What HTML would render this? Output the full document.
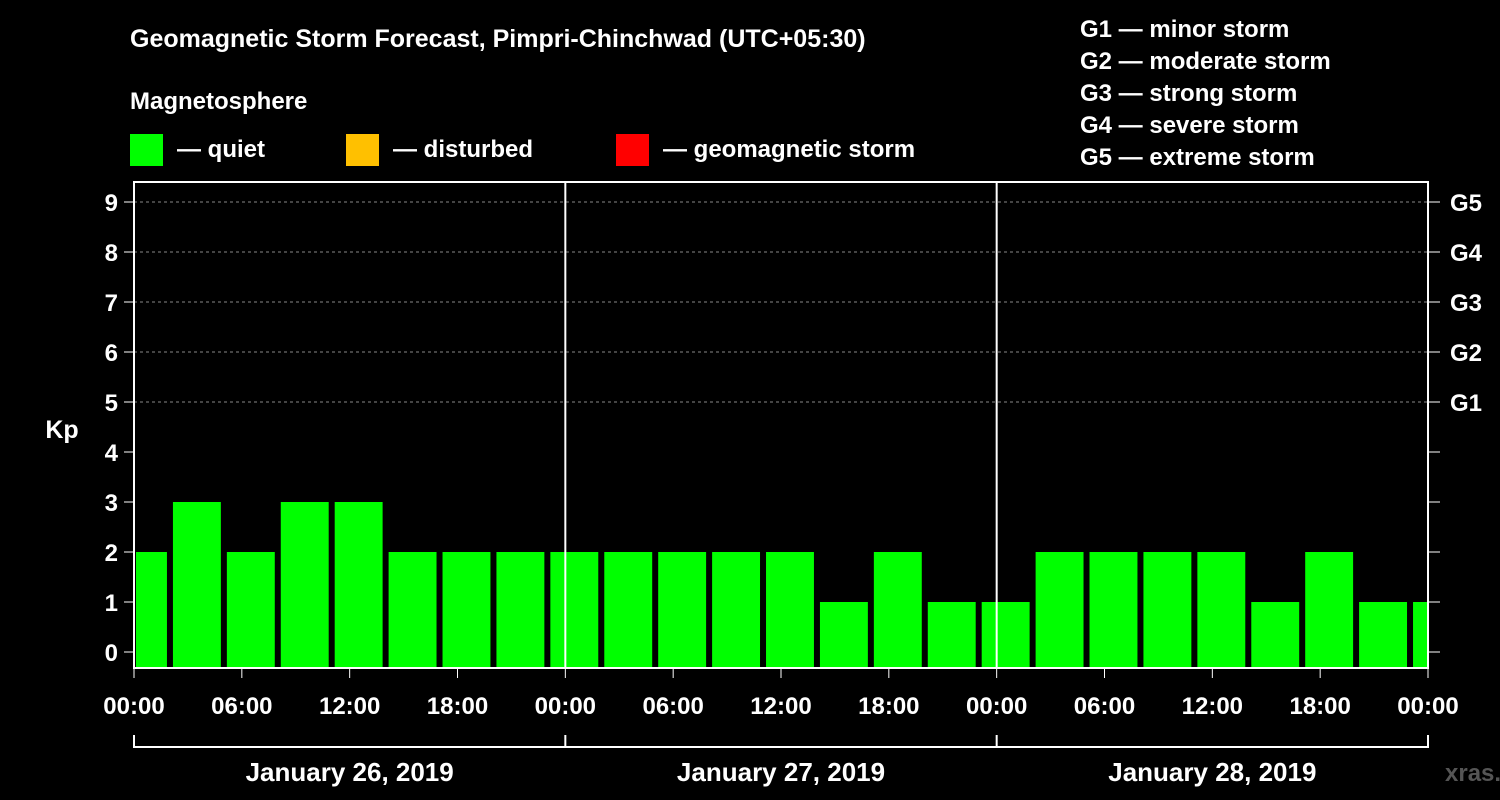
<!DOCTYPE html>
<html><head><meta charset="utf-8"><style>
html,body{margin:0;padding:0;background:#000;}
svg{display:block;font-family:"Liberation Sans",Arial,sans-serif;font-weight:bold;}
</style></head><body>
<svg id="chart" width="1500" height="800" viewBox="0 0 1500 800">
<rect width="1500" height="800" fill="#000"/>
<text x="130" y="47" fill="#fff" font-size="25">Geomagnetic Storm Forecast, Pimpri-Chinchwad (UTC+05:30)</text>
<text x="130" y="109" fill="#fff" font-size="24">Magnetosphere</text>
<g><rect x="130" y="134" width="33" height="32" fill="#00ff00"/><text x="177" y="157" fill="#fff" font-size="24">— quiet</text></g>
<g><rect x="346" y="134" width="33" height="32" fill="#ffc000"/><text x="393" y="157" fill="#fff" font-size="24">— disturbed</text></g>
<g><rect x="616" y="134" width="33" height="32" fill="#ff0000"/><text x="663" y="157" fill="#fff" font-size="24">— geomagnetic storm</text></g>
<g fill="#fff" font-size="24">
<text x="1080" y="37">G1 — minor storm</text>
<text x="1080" y="69">G2 — moderate storm</text>
<text x="1080" y="101">G3 — strong storm</text>
<text x="1080" y="133">G4 — severe storm</text>
<text x="1080" y="165">G5 — extreme storm</text>
</g>
<text x="62" y="438" fill="#fff" font-size="25" text-anchor="middle">Kp</text>
<g id="grid"></g>
<g id="bars"></g>
<g id="axes"></g>
<text x="1445" y="781" fill="#555" font-size="24">xras.ru</text>
</svg>
<script>
const kpValues=[2,3,2,3,3,2,2,2,2,2,2,2,2,1,2,1,1,2,2,2,2,1,2,1,1];
const binStarts=[0,2,5,8,11,14,17,20,23,26,29,32,35,38,41,44,47,50,53,56,59,62,65,68,71];
const yTicks=[0,1,2,3,4,5,6,7,8,9];
const gLabels=["G1","G2","G3","G4","G5"];
const xTickLabels=["00:00","06:00","12:00","18:00","00:00","06:00","12:00","18:00","00:00","06:00","12:00","18:00","00:00"];
const dateLabels=["January 26, 2019","January 27, 2019","January 28, 2019"];
const X0=134,X1=1428,TOTAL_H=72;
const x=h=>X0+(X1-X0)*h/TOTAL_H;
const y=v=>652-50*v;
const NS="http://www.w3.org/2000/svg";
function mk(parent,tag,attrs,text){const e=document.createElementNS(NS,tag);for(const k in attrs)e.setAttribute(k,attrs[k]);if(text!==undefined)e.textContent=text;document.getElementById(parent).appendChild(e);return e;}
// grid
for(let v=5;v<=9;v++){const l=mk('grid','line',{x1:X0,x2:X1,y1:y(v),y2:y(v),stroke:'#888','stroke-dasharray':'3,3','stroke-width':1});

}
// bars
kpValues.forEach((v,i)=>{const s=binStarts[i];const e=i+1<binStarts.length?binStarts[i+1]:s+3;
const left=i===0?x(s)+2:x(s)+3;const right=Math.min(x(e)-3,X1);
const r=mk('bars','rect',{x:left,y:y(v),width:right-left,height:668-y(v),fill:v>=5?'#ff0000':(v>=4?'#ffc000':'#00ff00')});

});
// frame and day dividers
const fr=mk('axes','rect',{x:X0,y:182,width:X1-X0,height:486,fill:'none',stroke:'#fff','stroke-width':2});


[24,48].forEach(h=>{const l=mk('axes','line',{x1:x(h),x2:x(h),y1:182,y2:668,stroke:'#fff','stroke-width':2});

});
yTicks.forEach(v=>{
mk('axes','line',{x1:X0-10,x2:X0,y1:y(v),y2:y(v),stroke:'#fff','stroke-width':1});
mk('axes','line',{x1:X1,x2:X1+12,y1:y(v),y2:y(v),stroke:'#fff','stroke-width':1});
const t=mk('axes','text',{x:118,y:y(v)+9,fill:'#fff','font-size':24,'text-anchor':'end'},String(v));

});
gLabels.forEach((g,i)=>{const t=mk('axes','text',{x:1450,y:y(5+i)+9,fill:'#fff','font-size':24},g);

});
xTickLabels.forEach((lab,i)=>{const h=i*6;
mk('axes','line',{x1:x(h),x2:x(h),y1:668,y2:678,stroke:'#fff','stroke-width':1});
const t=mk('axes','text',{x:x(h),y:714,fill:'#fff','font-size':24,'text-anchor':'middle'},lab);

});
mk('axes','line',{x1:X0,x2:X1,y1:747,y2:747,stroke:'#fff','stroke-width':2});
[0,24,48,72].forEach(h=>mk('axes','line',{x1:x(h),x2:x(h),y1:735,y2:748,stroke:'#fff','stroke-width':2}));
dateLabels.forEach((d,i)=>{const t=mk('axes','text',{x:x(i*24+12),y:781,fill:'#fff','font-size':26,'text-anchor':'middle'},d);

});
</script>
</body></html>
